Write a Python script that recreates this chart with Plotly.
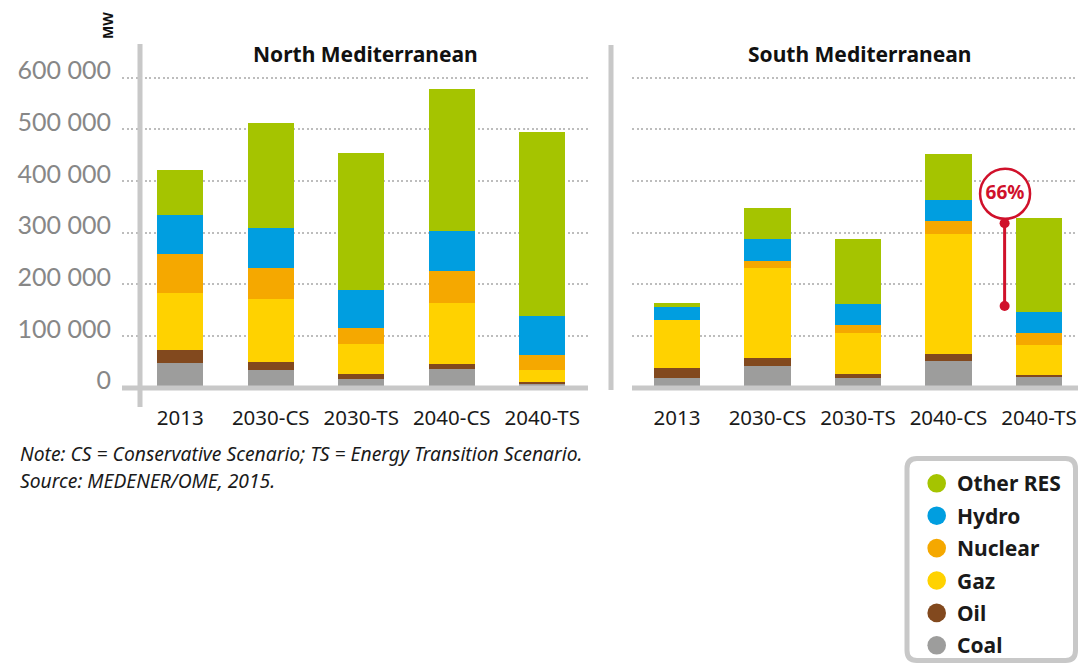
import plotly.graph_objects as go

# ---------------- data (MW) ----------------
categories = ["2013", "2030-CS", "2030-TS", "2040-CS", "2040-TS"]
sources = ["Coal", "Oil", "Gaz", "Nuclear", "Hydro", "Other RES"]
colors = ["#9d9d9c", "#82491e", "#ffd200", "#f5a800", "#009ee0", "#a5c400"]

north_coal = [48000, 34000, 17000, 36000, 9000]
north_oil = [25000, 16000, 9000, 10000, 3000]
north_gaz = [110000, 122000, 59000, 118000, 22000]
north_nuclear = [76000, 60000, 30000, 62000, 29000]
north_hydro = [75000, 77000, 74000, 77000, 76000]
north_other = [87000, 203000, 265000, 275000, 356000]

south_coal = [19000, 42000, 19000, 52000, 21000]
south_oil = [19000, 15000, 7000, 13000, 4000]
south_gaz = [93000, 175000, 80000, 232000, 58000]
south_nuclear = [0, 13000, 15000, 26000, 23000]
south_hydro = [25000, 43000, 41000, 40000, 40000]
south_other = [8000, 60000, 126000, 89000, 182000]

y_ticks = [0, 100000, 200000, 300000, 400000, 500000, 600000]
y_tick_text = ["0", "100 000", "200 000", "300 000", "400 000", "500 000", "600 000"]

# 66 % marker (between 2040-CS and 2040-TS, south)
pct_label = "66%"
pct_range = [158000, 318000]
pct_circle_value = 375000

north = [north_coal, north_oil, north_gaz, north_nuclear, north_hydro, north_other]
south = [south_coal, south_oil, south_gaz, south_nuclear, south_hydro, south_other]

# ---------------- layout helpers (pixels -> paper) ----------------
W, H = 1078, 666
def px(x):
    return x / W
def py(y):
    return 1 - y / H

FONT = "Noto Sans"
NUMFONT = "Lato"
GRID = "#bdbdbd"
AXIS = "#c8c8c8"
RED = "#d0112b"
INK = "#1a1a1a"

xpos = list(range(len(categories)))

fig = go.Figure()
for i, name in enumerate(sources):
    fig.add_trace(go.Bar(x=xpos, y=north[i], name=name, marker=dict(color=colors[i], line=dict(width=0)),
                         width=0.51, showlegend=False, xaxis="x", yaxis="y", hoverinfo="skip"))
for i, name in enumerate(sources):
    fig.add_trace(go.Bar(x=xpos, y=south[i], name=name, marker=dict(color=colors[i], line=dict(width=0)),
                         width=0.51, showlegend=False, xaxis="x2", yaxis="y2", hoverinfo="skip"))

# 66% indicator
fig.add_trace(go.Scatter(x=[3.62, 3.62], y=pct_range, mode="lines+markers",
                         line=dict(color=RED, width=3), marker=dict(color=RED, size=10),
                         showlegend=False, xaxis="x2", yaxis="y2", hoverinfo="skip", cliponaxis=False))
fig.add_trace(go.Scatter(x=[3.625], y=[pct_circle_value], mode="markers+text", text=[pct_label],
                         textposition="middle center",
                         textfont=dict(family=FONT, size=19, color=RED, weight="bold"),
                         marker=dict(symbol="circle", size=50, color="white", line=dict(color=RED, width=2.5)),
                         showlegend=False, xaxis="x2", yaxis="y2", hoverinfo="skip", cliponaxis=False))

ymin, ymax = -37330, 664800
ydom = [py(407), py(44)]
spacing = 90.5
n0, s0 = 180.25, 677.0

yax_common = dict(range=[ymin, ymax], domain=ydom, tickvals=y_ticks, showgrid=True,
                  gridcolor=GRID, gridwidth=2, griddash="2px,2.5px", zeroline=False, showline=False,
                  ticks="", fixedrange=True, automargin=False)
xax_common = dict(tickvals=xpos, ticktext=categories, showgrid=False, zeroline=False, showline=False,
                  ticks="", tickfont=dict(size=20.5, color=INK, family=FONT), ticklabelstandoff=-4,
                  fixedrange=True, automargin=False)

fig.update_layout(
    width=W, height=H, margin=dict(l=0, r=0, t=0, b=0, autoexpand=False),
    paper_bgcolor="white", plot_bgcolor="rgba(0,0,0,0)",
    barmode="stack", bargap=0,
    font=dict(family=FONT, color=INK),
    xaxis=dict(**xax_common, domain=[px(122), px(588)],
               range=[(122 - n0) / spacing, (588 - n0) / spacing], anchor="y"),
    yaxis=dict(**yax_common, ticktext=y_tick_text, showticklabels=True,
               tickfont=dict(size=25, color="#878787", family=NUMFONT), ticklabelstandoff=10,
               ticklabelshift=-7, anchor="x"),
    xaxis2=dict(**xax_common, domain=[px(632), px(1078)],
                range=[(632 - s0) / spacing, (1078 - s0) / spacing], anchor="y2"),
    yaxis2=dict(**yax_common, ticktext=y_tick_text, showticklabels=False, anchor="x2"),
    showlegend=False,
)

shapes = []
# axis lines
shapes.append(dict(type="line", xref="paper", yref="paper", x0=px(140), x1=px(140), y0=py(44), y1=py(407),
                   line=dict(color=AXIS, width=5), layer="above"))
shapes.append(dict(type="line", xref="paper", yref="paper", x0=px(122), x1=px(588), y0=py(388), y1=py(388),
                   line=dict(color=AXIS, width=5), layer="above"))
shapes.append(dict(type="line", xref="paper", yref="paper", x0=px(611), x1=px(611), y0=py(45), y1=py(390),
                   line=dict(color=AXIS, width=5), layer="above"))
shapes.append(dict(type="line", xref="paper", yref="paper", x0=px(632), x1=px(1078), y0=py(388), y1=py(388),
                   line=dict(color=AXIS, width=5), layer="above"))
# rounded legend frame
x0, x1, y0, y1, r = 907.0, 1075.5, 458.5, 660.5, 10
path = (f"M {px(x0 + r)},{py(y0)} L {px(x1 - r)},{py(y0)} Q {px(x1)},{py(y0)} {px(x1)},{py(y0 + r)} "
        f"L {px(x1)},{py(y1 - r)} Q {px(x1)},{py(y1)} {px(x1 - r)},{py(y1)} "
        f"L {px(x0 + r)},{py(y1)} Q {px(x0)},{py(y1)} {px(x0)},{py(y1 - r)} "
        f"L {px(x0)},{py(y0 + r)} Q {px(x0)},{py(y0)} {px(x0 + r)},{py(y0)} Z")
shapes.append(dict(type="path", xref="paper", yref="paper", path=path,
                   line=dict(color=AXIS, width=5), fillcolor="white", layer="below"))

def label(text, x, y, size, anchor="center", angle=0, color="#111111"):
    return dict(text=text, x=px(x), y=py(y), xref="paper", yref="paper", xanchor=anchor,
                yanchor="middle", textangle=angle, showarrow=False,
                font=dict(size=size, color=color, family=FONT))

annotations = [
    label("<b>North Mediterranean</b>", 365, 54, 21),
    label("<b>South Mediterranean</b>", 859, 54, 21),
    label("<b>MW</b>", 107, 26, 14, angle=-90),
    label("<i>Note: CS = Conservative Scenario; TS = Energy Transition Scenario.</i>", 18, 453, 19.3,
          anchor="left", color=INK),
    label("<i>Source: MEDENER/OME, 2015.</i>", 18, 480, 19.3, anchor="left", color=INK),
]

# custom legend: circle + bold label, top-down Other RES ... Coal
row0, row_gap, cx, rad = 483.3, 32.4, 936.7, 9.3
for k, i in enumerate(reversed(range(len(sources)))):
    yc = row0 + k * row_gap
    shapes.append(dict(type="circle", xref="paper", yref="paper",
                       x0=px(cx - rad), x1=px(cx + rad), y0=py(yc + rad), y1=py(yc - rad),
                       fillcolor=colors[i], line=dict(width=0), layer="above"))
    annotations.append(label(f"<b>{sources[i]}</b>", 954.5, yc, 21, anchor="left", color=INK))

fig.update_layout(shapes=shapes, annotations=annotations)

fig.write_html("out.html", config={"displayModeBar": False},
               post_script="document.body.style.margin='0';document.body.style.padding='0';")
